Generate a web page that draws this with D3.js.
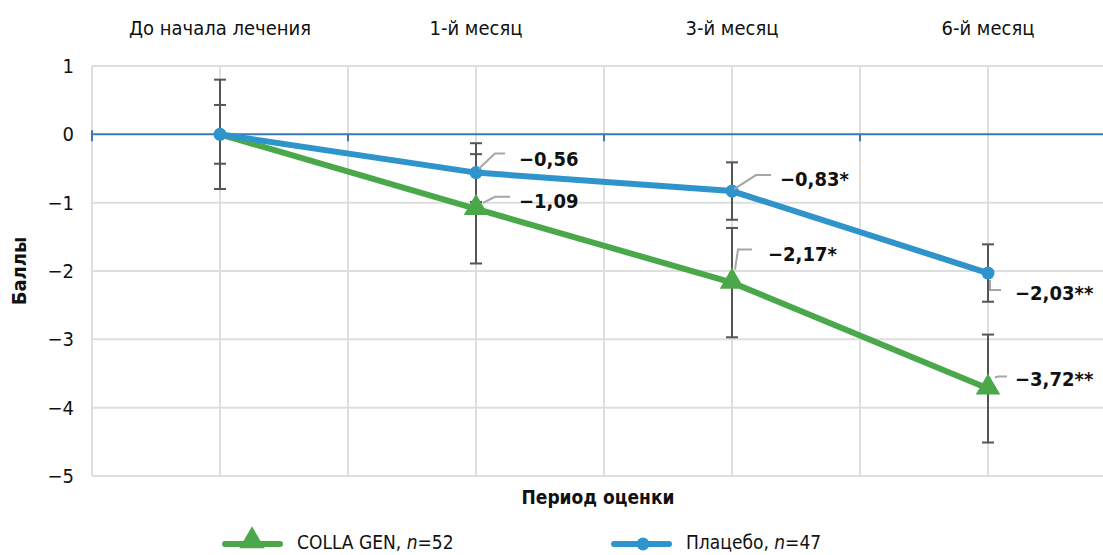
<!DOCTYPE html>
<html>
<head>
<meta charset="utf-8">
<script src="https://cdn.jsdelivr.net/npm/d3@7"></script>
<style>
  body { margin: 0; background: #fff; }
  svg text { font-family: "DejaVu Sans Condensed", "DejaVu Sans", sans-serif; font-stretch: condensed; fill: #111; }
</style>
</head>
<body>
<div id="chart"></div>
<script>
// data
var categories = ["До начала лечения", "1-й месяц", "3-й месяц", "6-й месяц"];
var collaGen = [0, -1.09, -2.17, -3.72];
var collaGenErr = [0.8, 0.8, 0.8, 0.79];
var collaGenLabels = [null, "−1,09", "−2,17*", "−3,72**"];
var placebo = [0, -0.56, -0.83, -2.03];
var placeboErr = [0.43, 0.43, 0.42, 0.42];
var placeboLabels = [null, "−0,56", "−0,83*", "−2,03**"];
var yTicks = [1, 0, -1, -2, -3, -4, -5];

// label leader offsets (px, relative to the point): start, elbow, end, text
var placeboLeaders = [null,
  {s: [3, -4], e: [19, -19], t: [29, -19], lx: 43, ly: -14},
  {s: [2, -2], e: [24, -16], t: [39, -16], lx: 48, ly: -12},
  {s: [2, 7], e: [2, 17], t: [13, 17], lx: 27, ly: 20}];
var collaLeaders = [null,
  {s: [7, -6], e: [19, -12], t: [34, -12], lx: 43, ly: -8},
  {s: [3, -13], e: [6, -33], t: [20, -33], lx: 36, ly: -29},
  {s: [7, -11], e: [10, -12], t: [19, -12], lx: 27, ly: -10}];

var width = 1103, height = 555;
var plotLeft = 92, plotRight = 1116, plotTop = 66, plotBottom = 476;

var green = "#4aa84a", blue = "#2e94cb";

var svg = d3.select("#chart")
  .append("svg")
    .attr("width", width)
    .attr("height", height);

var x = d3.scaleBand()
  .domain(categories)
  .range([plotLeft, plotRight])
  .padding(0);

var y = d3.scaleLinear()
  .domain([-5, 1])
  .range([plotBottom, plotTop]);

var cx = function(i) { return x(categories[i]) + x.bandwidth() / 2; };

// grid
var grid = svg.append("g");
var vlines = [];
categories.forEach(function(c) { vlines.push(x(c)); vlines.push(x(c) + x.bandwidth() / 2); });
grid.selectAll("line.v")
  .data(vlines)
  .enter()
  .append("line")
    .attr("x1", d => d).attr("x2", d => d)
    .attr("y1", plotTop).attr("y2", plotBottom)
    .attr("stroke", "#dedede")
    .attr("stroke-width", 2);
grid.selectAll("line.h")
  .data(yTicks.filter(d => d !== 0))
  .enter()
  .append("line")
    .attr("x1", plotLeft).attr("x2", plotRight)
    .attr("y1", d => y(d)).attr("y2", d => y(d))
    .attr("stroke", "#dedede")
    .attr("stroke-width", 2);

// zero axis line with ticks at the category boundaries
svg.append("line")
  .attr("x1", plotLeft).attr("x2", plotRight)
  .attr("y1", y(0)).attr("y2", y(0))
  .attr("stroke", "#3b78b4")
  .attr("stroke-width", 2);
svg.selectAll("line.tick")
  .data(categories)
  .enter()
  .append("line")
    .attr("x1", d => x(d)).attr("x2", d => x(d))
    .attr("y1", (d, i) => i === 0 ? y(0) - 4 : y(0))
    .attr("y2", y(0) + 7)
    .attr("stroke", "#3b78b4")
    .attr("stroke-width", 2);

// y tick labels
svg.append("g")
  .selectAll("text")
  .data(yTicks)
  .enter()
  .append("text")
    .attr("x", 74)
    .attr("y", d => y(d))
    .attr("dy", "0.35em")
    .attr("text-anchor", "end")
    .attr("font-size", 20)
    .text(d => d3.format("d")(d).replace("-", "–"));

// category labels on top
svg.append("g")
  .selectAll("text")
  .data(categories)
  .enter()
  .append("text")
    .attr("x", d => x(d) + x.bandwidth() / 2)
    .attr("y", 28)
    .attr("dy", "0.35em")
    .attr("text-anchor", "middle")
    .attr("font-size", 20)
    .text(d => d);

// axis titles
svg.append("text")
  .attr("transform", "translate(19," + ((plotTop + plotBottom) / 2) + ") rotate(-90)")
  .attr("dy", "0.35em")
  .attr("text-anchor", "middle")
  .attr("font-size", 20)
  .attr("font-weight", "bold")
  .text("Баллы");
svg.append("text")
  .attr("x", 598)
  .attr("y", 497)
  .attr("dy", "0.35em")
  .attr("text-anchor", "middle")
  .attr("font-size", 19)
  .attr("font-weight", "bold")
  .text("Период оценки");

// error bars
function errorBars(values, errs) {
  var g = svg.append("g").attr("stroke", "#555").attr("stroke-width", 2);
  values.forEach(function(v, i) {
    var x0 = cx(i);
    g.append("line").attr("x1", x0).attr("x2", x0).attr("y1", y(v + errs[i])).attr("y2", y(v - errs[i]));
    [v + errs[i], v - errs[i]].forEach(function(e) {
      g.append("line").attr("x1", x0 - 6).attr("x2", x0 + 6).attr("y1", y(e)).attr("y2", y(e));
    });
  });
}
errorBars(collaGen, collaGenErr);
errorBars(placebo, placeboErr);

var line = d3.line()
  .x((d, i) => cx(i))
  .y(d => y(d));

svg.append("path")
  .datum(collaGen)
  .attr("d", line)
  .attr("fill", "none")
  .attr("stroke", green)
  .attr("stroke-width", 6);
svg.append("path")
  .datum(placebo)
  .attr("d", line)
  .attr("fill", "none")
  .attr("stroke", blue)
  .attr("stroke-width", 6);

var tri = d3.symbol().type(d3.symbolTriangle).size(260);

// the baseline triangle sits hidden under the placebo marker in the original
svg.append("g")
  .selectAll("path")
  .data(collaGen.slice(1))
  .enter()
  .append("path")
    .attr("d", tri)
    .attr("transform", (d, i) => "translate(" + cx(i + 1) + "," + (y(d) - 1) + ")")
    .attr("fill", green);
svg.append("g")
  .selectAll("circle")
  .data(placebo)
  .enter()
  .append("circle")
    .attr("cx", (d, i) => cx(i))
    .attr("cy", d => y(d))
    .attr("r", 6.5)
    .attr("fill", blue);

// data labels with leader lines
function dataLabels(values, labels, leaders) {
  var g = svg.append("g");
  values.forEach(function(v, i) {
    if (!labels[i]) return;
    var px = cx(i), py = y(v), L = leaders[i];
    g.append("polyline")
      .attr("points", [L.s, L.e, L.t].map(p => (px + p[0]) + "," + (py + p[1])).join(" "))
      .attr("fill", "none")
      .attr("stroke", "#a6a6a6")
      .attr("stroke-width", 2);
    g.append("text")
      .attr("x", px + L.lx)
      .attr("y", py + L.ly)
      .attr("dy", "0.35em")
      .attr("font-size", 20)
      .attr("font-weight", "bold")
      .text(labels[i]);
  });
}
dataLabels(placebo, placeboLabels, placeboLeaders);
dataLabels(collaGen, collaGenLabels, collaLeaders);

// legend
var legend = [
  {name: "COLLA GEN, ", n: "52", color: green, sym: "tri", x0: 225},
  {name: "Плацебо, ", n: "47", color: blue, sym: "circle", x0: 614}
];
var legendY = 544;
legend.forEach(function(d) {
  var g = svg.append("g");
  g.append("line")
    .attr("x1", d.x0).attr("x2", d.x0 + 55)
    .attr("y1", legendY).attr("y2", legendY)
    .attr("stroke", d.color)
    .attr("stroke-width", 6)
    .attr("stroke-linecap", "round");
  if (d.sym === "tri") {
    g.append("path")
      .attr("d", d3.symbol().type(d3.symbolTriangle).size(280))
      .attr("transform", "translate(" + (d.x0 + 27) + "," + (legendY - 3) + ")")
      .attr("fill", d.color);
  } else {
    g.append("circle")
      .attr("cx", d.x0 + 29).attr("cy", legendY).attr("r", 6.5)
      .attr("fill", d.color);
  }
  var t = g.append("text")
    .attr("x", d.x0 + 72)
    .attr("y", legendY - 2)
    .attr("dy", "0.35em")
    .attr("font-size", 19);
  t.append("tspan").text(d.name);
  t.append("tspan").attr("font-style", "italic").text("n");
  t.append("tspan").text("=" + d.n);
});
</script>
</body>
</html>
